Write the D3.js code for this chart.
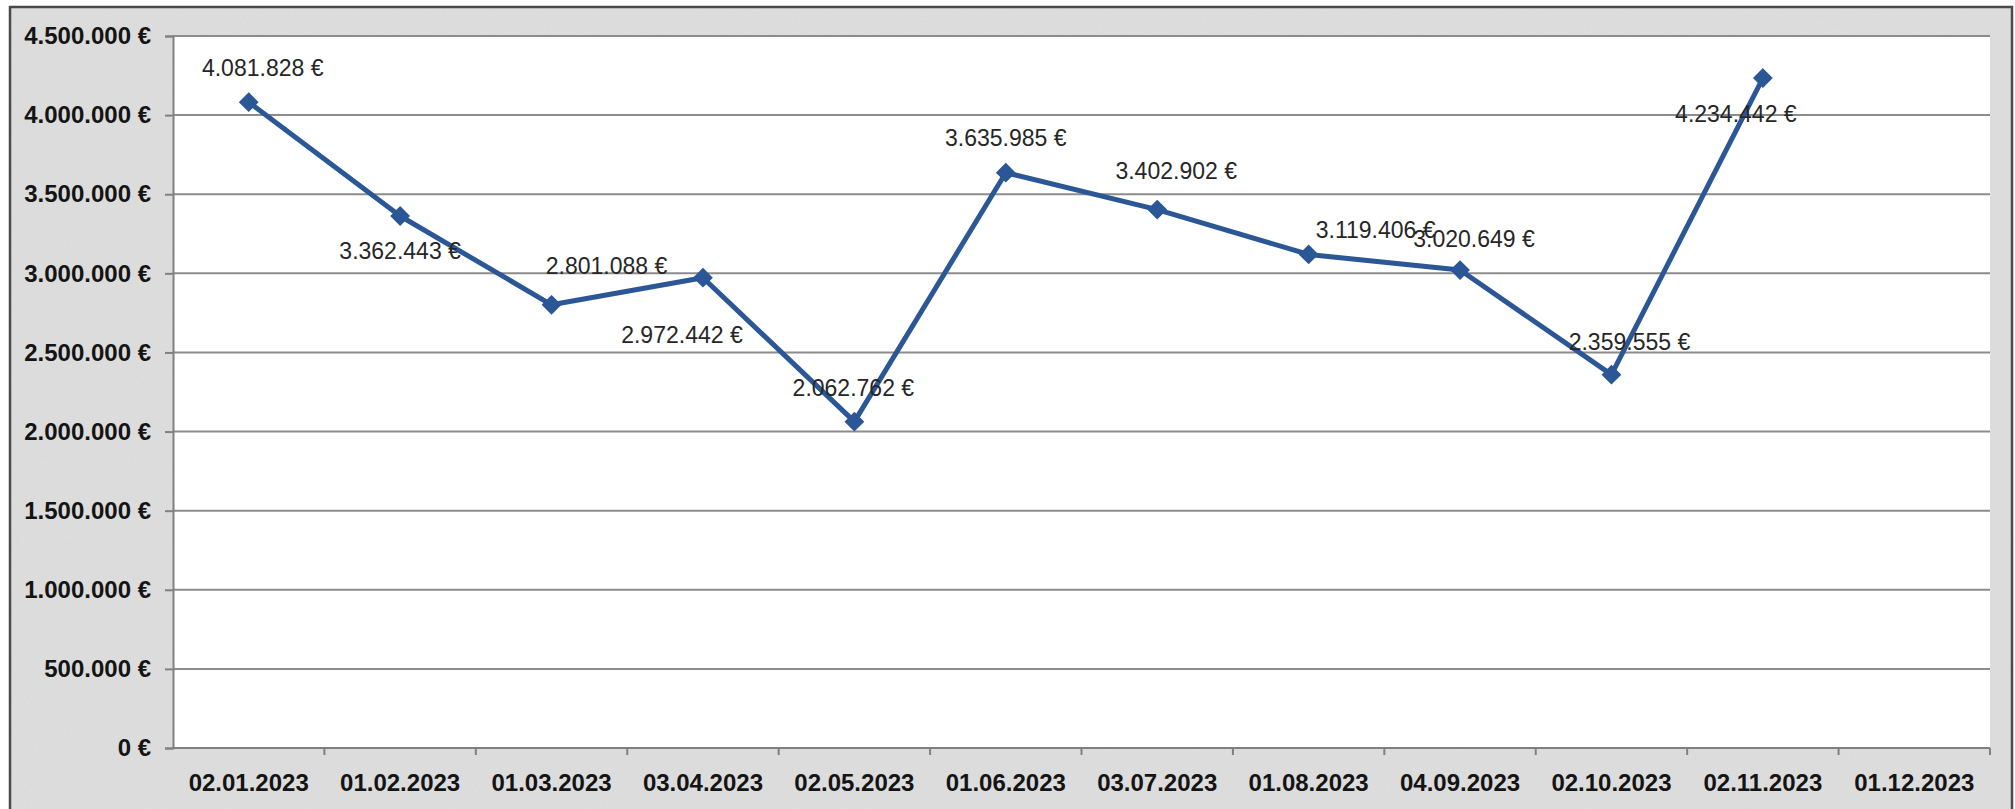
<!DOCTYPE html>
<html>
<head>
<meta charset="utf-8">
<script src="https://cdn.jsdelivr.net/npm/d3@7"></script>
<style>
  html, body { margin: 0; padding: 0; background: #ffffff; }
  svg { display: block; }
</style>
</head>
<body>
<svg id="chart" width="2015" height="809"></svg>
<script>
// Monthly balance, 2023
const dates = ["02.01.2023", "01.02.2023", "01.03.2023", "03.04.2023", "02.05.2023", "01.06.2023",
               "03.07.2023", "01.08.2023", "04.09.2023", "02.10.2023", "02.11.2023", "01.12.2023"];
const amounts = [4081828, 3362443, 2801088, 2972442, 2062762, 3635985,
                 3402902, 3119406, 3020649, 2359555, 4234442];
const yTicks = [0, 500000, 1000000, 1500000, 2000000, 2500000, 3000000, 3500000, 4000000, 4500000];

// Hand-placed label offsets (dx, dy) relative to each point
const labelOffsets = [[14, -34], [0, 35], [55, -39], [-21, 57], [-1, -34], [0, -35],
                      [19, -39], [67, -24], [14, -31], [18, -33], [-27, 36]];

const svg = d3.select("#chart");
const plot = { left: 173, top: 36, right: 1990, bottom: 748 };

// German number format: thousands separator "."
const de = d3.formatLocale({ decimal: ",", thousands: ".", grouping: [3], currency: ["", " €"] });
const fmt = v => de.format(",.0f")(v) + " €";

// Scanned-paper grain for the chart area
const defs = svg.append("defs");
const grain = defs.append("filter").attr("id", "grain").attr("x", 0).attr("y", 0).attr("width", "100%").attr("height", "100%");
grain.append("feTurbulence").attr("type", "fractalNoise").attr("baseFrequency", 0.9).attr("numOctaves", 2).attr("seed", 3).attr("result", "n");
grain.append("feColorMatrix").attr("in", "n").attr("type", "matrix")
  .attr("values", "0 0 0 0 0.5  0 0 0 0 0.5  0 0 0 0 0.5  0 0 0 0.22 0");

// Chart area background and frame
svg.append("rect").attr("x", 10).attr("y", 7).attr("width", 2002).attr("height", 830)
  .attr("fill", "#e0e0e0");
svg.append("rect").attr("x", 10).attr("y", 7).attr("width", 2002).attr("height", 830)
  .attr("fill", "#000").attr("filter", "url(#grain)");
svg.append("rect").attr("x", 10).attr("y", 7).attr("width", 2002).attr("height", 830)
  .attr("fill", "none").attr("stroke", "#4a4a4a").attr("stroke-width", 2.5);

// Plot area
svg.append("rect").attr("x", plot.left).attr("y", plot.top)
  .attr("width", plot.right - plot.left).attr("height", plot.bottom - plot.top)
  .attr("fill", "#ffffff");

const x = d3.scaleBand().domain(dates).range([plot.left, plot.right]).padding(0);
const y = d3.scaleLinear().domain([0, 4500000]).range([plot.bottom, plot.top]);

// Horizontal gridlines
svg.append("g").selectAll("line").data(yTicks.filter(t => t > 0)).join("line")
  .attr("x1", plot.left).attr("x2", plot.right)
  .attr("y1", d => y(d)).attr("y2", d => y(d))
  .attr("stroke", "#8c8c8c").attr("stroke-width", 2);

// Y axis
const yAxis = svg.append("g").attr("transform", `translate(${plot.left},0)`)
  .call(d3.axisLeft(y).tickValues(yTicks).tickFormat(fmt).tickSize(8).tickPadding(14));
yAxis.select(".domain").attr("stroke", "#808080").attr("stroke-width", 2);
yAxis.selectAll(".tick line").attr("stroke", "#808080").attr("stroke-width", 2);
yAxis.selectAll(".tick text")
  .attr("font-family", "'Liberation Sans', Arial, sans-serif")
  .attr("font-size", 24).attr("font-weight", "bold").attr("fill", "#141414");

// X axis: ticks at category boundaries, labels centred in each band
const xAxis = svg.append("g").attr("transform", `translate(0,${plot.bottom})`);
xAxis.append("line").attr("x1", plot.left).attr("x2", plot.right)
  .attr("y1", 0).attr("y2", 0).attr("stroke", "#808080").attr("stroke-width", 2);
xAxis.selectAll("line.tk").data(dates).join("line").attr("class", "tk")
  .attr("x1", d => x(d) + x.bandwidth()).attr("x2", d => x(d) + x.bandwidth())
  .attr("y1", 0).attr("y2", 7).attr("stroke", "#808080").attr("stroke-width", 2);
xAxis.selectAll("text").data(dates).join("text")
  .attr("x", d => x(d) + x.bandwidth() / 2).attr("y", 34)
  .attr("dominant-baseline", "central").attr("text-anchor", "middle")
  .attr("font-family", "'Liberation Sans', Arial, sans-serif")
  .attr("font-size", 24).attr("font-weight", "bold").attr("fill", "#141414")
  .text(d => d);

// Series line
const pts = amounts.map((v, i) => ({ date: dates[i], v, i }));
const cx = d => x(d.date) + x.bandwidth() / 2;
svg.append("path").datum(pts)
  .attr("d", d3.line().x(cx).y(d => y(d.v)))
  .attr("fill", "none").attr("stroke", "#2b5797").attr("stroke-width", 5)
  .attr("stroke-linejoin", "round");

// Diamond markers
svg.append("g").selectAll("path").data(pts).join("path")
  .attr("transform", d => `translate(${cx(d)},${y(d.v)})`)
  .attr("d", d3.symbol(d3.symbolDiamond2, 200))
  .attr("fill", "#2b5797").attr("stroke", "#2b5797").attr("stroke-width", 1.5);

// Value labels
svg.append("g").selectAll("text").data(pts).join("text")
  .attr("x", d => cx(d) + labelOffsets[d.i][0])
  .attr("y", d => y(d.v) + labelOffsets[d.i][1])
  .attr("text-anchor", "middle").attr("dominant-baseline", "central")
  .attr("font-family", "'Liberation Sans', Arial, sans-serif")
  .attr("font-size", 23).attr("fill", "#262626")
  .text(d => fmt(d.v));
</script>
</body>
</html>
